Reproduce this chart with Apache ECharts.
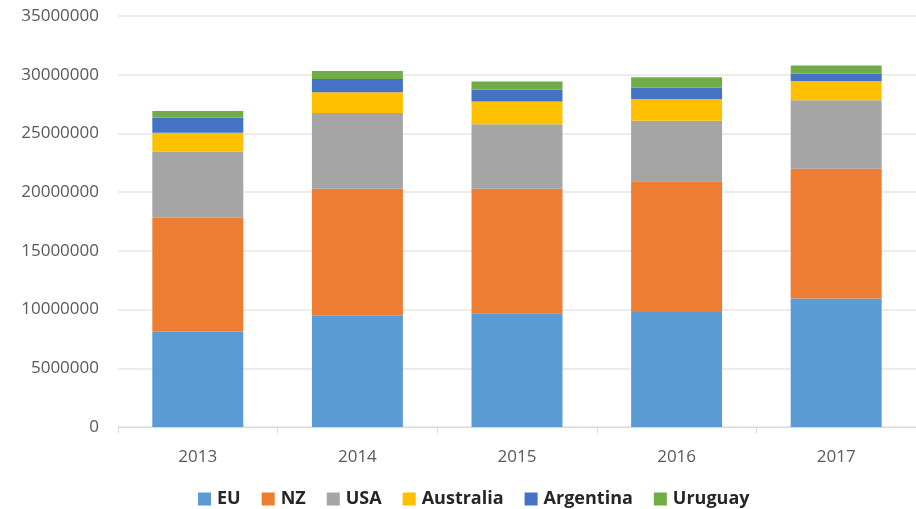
<!DOCTYPE html>
<html>
<head>
<meta charset="utf-8">
<script src="https://cdn.jsdelivr.net/npm/echarts@6/dist/echarts.min.js"></script>
<style>
html,body{margin:0;padding:0;background:#fff;}
#chart{width:916px;height:509px;}
</style>
</head>
<body>
<div id="chart"></div>
<script>
const categories = ['2013', '2014', '2015', '2016', '2017'];
const seriesNames = ['EU', 'NZ', 'USA', 'Australia', 'Argentina', 'Uruguay'];
const EU = [8130000, 9520000, 9690000, 9800000, 10940000];
const NZ = [9690000, 10770000, 10600000, 11120000, 11050000];
const USA = [5650000, 6440000, 5500000, 5150000, 5840000];
const Australia = [1580000, 1780000, 1930000, 1870000, 1640000];
const Argentina = [1280000, 1130000, 1020000, 970000, 630000];
const Uruguay = [590000, 680000, 680000, 880000, 680000];
const yTicks = [0, 5000000, 10000000, 15000000, 20000000, 25000000, 30000000, 35000000];

const colors = ['#5B9BD5', '#ED7D31', '#A5A5A5', '#FFC000', '#4472C4', '#70AD47'];
const allData = [EU, NZ, USA, Australia, Argentina, Uruguay];

const chart = echarts.init(document.getElementById('chart'));
chart.setOption({
  animation: false,
  color: colors,
  grid: { left: 118, right: -2, top: 16, bottom: 82 },
  legend: {
    data: seriesNames,
    left: 193,
    top: 485,
    itemWidth: 13,
    itemHeight: 13,
    itemGap: 21,
    icon: 'rect',
    textStyle: { fontFamily: 'Open Sans', fontWeight: 'bold', fontSize: 18, color: '#262626', padding: [0, 0, 0, 1] }
  },
  xAxis: {
    type: 'category',
    data: categories,
    axisLine: { show: true, lineStyle: { color: '#D9D9D9', width: 1 } },
    axisTick: { show: true, length: 6, lineStyle: { color: '#D9D9D9' } },
    axisLabel: { fontFamily: 'Open Sans', fontSize: 17, color: '#595959', margin: 22 }
  },
  yAxis: {
    type: 'value',
    min: yTicks[0],
    max: yTicks[yTicks.length - 1],
    interval: 5000000,
    axisLine: { show: false },
    axisTick: { show: false },
    splitLine: { lineStyle: { color: '#E6E6E6', width: 1.5 } },
    axisLabel: { fontFamily: 'Open Sans', fontSize: 17, color: '#595959', margin: 19, formatter: v => String(v) }
  },
  series: seriesNames.map((name, i) => ({
    name: name,
    type: 'bar',
    stack: 'total',
    barWidth: '57%',
    data: allData[i],
    itemStyle: { color: colors[i] }
  }))
});
</script>
</body>
</html>
